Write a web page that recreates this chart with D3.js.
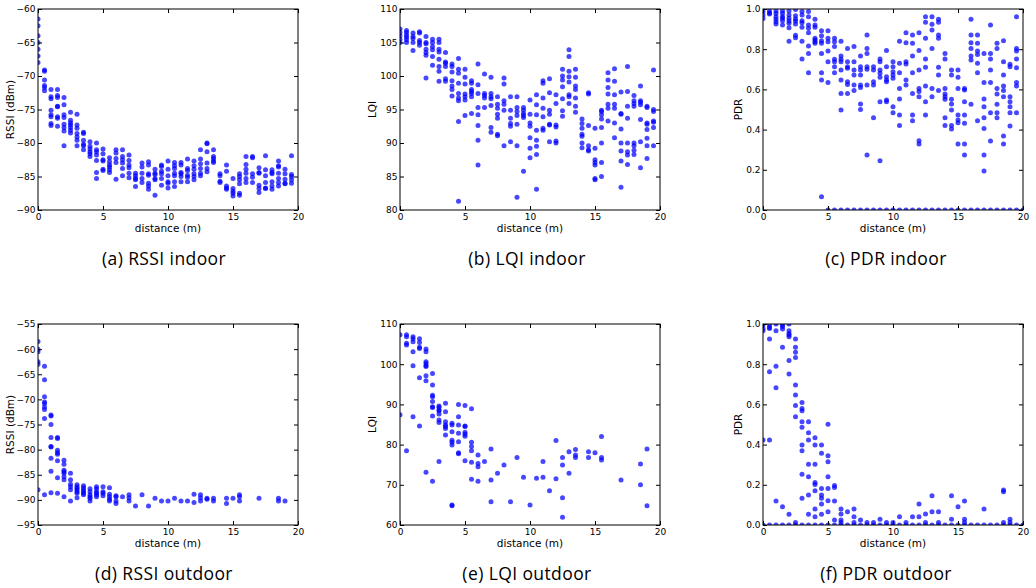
<!DOCTYPE html>
<html>
<head>
<meta charset="utf-8">
<script src="https://cdn.jsdelivr.net/npm/d3@7"></script>
<style>
  body { margin: 0; background: #fff; }
  svg { display: block; }
  .tick text { font-family: "DejaVu Sans", sans-serif; font-size: 9px; fill: #000; }
  .lbl { font-family: "DejaVu Sans", sans-serif; font-size: 10.5px; fill: #000; }
  .cap { font-family: "Open Sans", "Noto Sans", sans-serif; font-size: 17.5px; letter-spacing: 0.4px; fill: #000; }
</style>
</head>
<body>
<svg width="1036" height="588"></svg>
<script>
// each entry: [distance, [values measured at that distance]]
var rssiIndoor = [
  [0, [-61.5, -62.5, -64, -65, -66, -67, -68]],
  [0.5, [-69.1, -69.3, -70.6, -71.4, -71.7, -72.2]],
  [1, [-72, -73.1, -73.4, -75.1, -75.8, -76.1, -77.1, -77.4]],
  [1.5, [-72, -72.9, -73.2, -74.5, -74.6, -76.1, -76.3, -77.5]],
  [2, [-73.2, -74.3, -75.8, -76.2, -77.2, -77.7, -78.2, -80.4]],
  [2.5, [-75.4, -76.6, -77, -77.3, -77.7, -78.1, -78.5]],
  [3, [-75.7, -77.3, -77.8, -78.6, -79.1, -79.6, -80.4]],
  [3.5, [-78.4, -78.6, -79.6, -80.2, -80.4, -81]],
  [4, [-79.8, -80.5, -80.9, -81.3, -81.6, -82]],
  [4.5, [-80, -81, -81.3, -81.8, -82.6, -84.4, -85.3]],
  [5, [-80.9, -81.6, -82.5, -82.7, -83.9, -84.1]],
  [5.5, [-82.2, -82.8, -83.3, -83.6, -84, -84.4]],
  [6, [-81, -81.5, -82.3, -82.9, -85.4]],
  [6.5, [-81, -82, -82.5, -83, -83.8, -84.9]],
  [7, [-81.8, -82.6, -83.3, -83.7, -84.5, -85.2]],
  [7.5, [-84.5, -84.9, -85.3, -85.5, -86.5]],
  [8, [-83, -83.6, -84.5, -85.3, -85.9]],
  [8.5, [-82.8, -83.3, -84.6, -84.8, -86, -86.4, -86.9]],
  [9, [-83.9, -84.5, -84.7, -85.3, -85.5, -87.8]],
  [9.5, [-83.3, -83.5, -84.2, -84.6, -85.3, -86.3]],
  [10, [-82.7, -83.9, -84.9, -85.8, -86, -86.7]],
  [10.5, [-82.9, -83.4, -83.8, -84.5, -84.9, -85.8, -86.5]],
  [11, [-82.9, -83.3, -84.4, -84.6, -85, -85.8]],
  [11.5, [-82.4, -83.8, -84.1, -84.8, -85.1, -85.8]],
  [12, [-82.7, -83.4, -83.9, -84.6, -85, -85.5]],
  [12.5, [-81, -82.4, -83.1, -83.8, -84.5, -84.9]],
  [13, [-80, -80.1, -81.3, -83, -83.8, -84.3]],
  [13.5, [-81, -82, -82.3, -82.7, -82.9]],
  [14, [-84.6, -84.9, -85.7, -85.9]],
  [14.5, [-83.3, -84.2, -86.4, -86.7, -86.9]],
  [15, [-85.3, -86.8, -87.2, -87.5, -87.9]],
  [15.5, [-84.6, -85, -85.5, -86.1, -87.5, -87.8]],
  [16, [-82, -83.2, -83.9, -84.5, -85.3, -85.9]],
  [16.5, [-82, -82.2, -84.6, -85.1, -85.9]],
  [17, [-83.7, -84.4, -84.5, -86.3, -86.8, -87.4]],
  [17.5, [-81.9, -84, -84.9, -85.9, -86.7, -86.8]],
  [18, [-84, -84.4, -84.6, -85.8, -86.4, -86.9]],
  [18.5, [-82.7, -83.4, -83.6, -84.5, -85.3, -85.9, -86.4]],
  [19, [-83.9, -84.6, -85.4, -86, -86.1]],
  [19.5, [-81.9, -84.7, -85, -85.5, -86]]
];

var lqiIndoor = [
  [0, [107, 106.5, 106, 105.5, 105]],
  [0.5, [106.8, 106.5, 106.1, 105.8, 105.4, 105]],
  [1, [106.4, 105.9, 105.6, 105, 103.8]],
  [1.5, [106.6, 106.4, 105.3, 105, 104.6]],
  [2, [105.9, 105, 104.8, 104, 103.5, 103.1, 99.7]],
  [2.5, [105.5, 105, 104.4, 103.9, 102.9, 101.6]],
  [3, [105.5, 105, 104, 103.6, 102.5, 101.4, 100.7, 99.2]],
  [3.5, [103.5, 102.1, 101.9, 101.4, 99.6, 99.2]],
  [4, [101.8, 101.4, 100.6, 99.3, 98.5, 98, 97]],
  [4.5, [102.6, 101, 100.4, 98.9, 97.4, 96.7, 96.3, 93.2, 81.3]],
  [5, [101, 99.8, 98.8, 97.3, 96.9, 96.4, 94.1]],
  [5.5, [99.3, 98.9, 98, 97.7, 97.4, 96.9, 94.4]],
  [6, [101.8, 98.7, 97.4, 95.3, 94.2, 92.6, 90.4, 86.7]],
  [6.5, [100.3, 97.4, 97.1, 96.7, 95.3]],
  [7, [99.8, 97.4, 96.9, 96.6, 95.6, 92.3, 91.6]],
  [7.5, [96.9, 95.8, 95.2, 94.3, 93.7, 91.3, 91.1]],
  [8, [99.7, 98.8, 96.3, 95.8, 94.9, 89.6]],
  [8.5, [96.9, 94.9, 93.7, 92.9, 92.5, 90.2]],
  [9, [96.9, 95.3, 94.7, 94.1, 92.8, 89.6, 81.9]],
  [9.5, [95.3, 94.9, 94.4, 94.1, 93.8, 85.8]],
  [10, [96.4, 94.3, 93, 92.5, 90.8, 89.2, 87.8]],
  [10.5, [97.2, 95.7, 94.2, 91.9, 90.4, 89.5, 88.3, 83.1]],
  [11, [99.3, 98.9, 96.7, 95.2, 93.9, 92.2, 91.9]],
  [11.5, [99.6, 97.5, 94.9, 94.3, 92.8, 92.7, 90.2]],
  [12, [97.2, 95.9, 92.7, 92.4, 90.3, 90]],
  [12.5, [101, 100, 99.4, 98.4, 96.6, 94.8, 94]],
  [13, [103.9, 102.9, 100.7, 99.9, 99.1, 97.2, 96.9, 95.9]],
  [13.5, [101, 99.8, 98.5, 98, 96.7, 95.5, 94.6]],
  [14, [93.6, 92.9, 92.2, 91.3, 91, 90, 89.3]],
  [14.5, [97.5, 97.3, 92.6, 89.6, 89, 88.8]],
  [15, [92.2, 89.2, 87.5, 87.1, 86.7, 84.7, 84.5]],
  [15.5, [94.9, 94.7, 94.2, 93.6, 92.3, 90, 87.1, 85]],
  [16, [100.5, 99.4, 98.3, 97.3, 95.8, 95.2, 93.3]],
  [16.5, [101.1, 99.2, 97.2, 95.8, 95.2, 93, 90.8]],
  [17, [97.6, 94.4, 94.3, 92.1, 90, 88.8, 87.3, 83.4]],
  [17.5, [101.4, 97.7, 95.5, 93.7, 90, 88.7, 88.2, 86.8]],
  [18, [97.1, 96.3, 95.9, 95.5, 90, 89.6, 88.9, 88.3]],
  [18.5, [98.5, 96.3, 96.1, 95.7, 93.5, 90.2, 86.3]],
  [19, [95.5, 95.3, 93, 92.8, 92, 90.7, 89.6, 87.7]],
  [19.5, [100.9, 95, 94.7, 93.3, 93.1, 92.3, 89.6]]
];

var pdrIndoor = [
  [0, [0.987, 0.97, 0.953]],
  [0.5, [0.99, 0.98, 0.975]],
  [1, [0.99, 0.978, 0.962, 0.949, 0.937, 0.925]],
  [1.5, [0.99, 0.978, 0.962, 0.954, 0.942, 0.92]],
  [2, [0.99, 0.97, 0.954, 0.94, 0.929, 0.907, 0.84]],
  [2.5, [0.998, 0.967, 0.95, 0.94, 0.925, 0.87, 0.857]],
  [3, [0.987, 0.97, 0.942, 0.932, 0.909, 0.84, 0.751]],
  [3.5, [0.987, 0.962, 0.92, 0.904, 0.882, 0.816, 0.779, 0.683]],
  [4, [0.949, 0.92, 0.909, 0.854, 0.846, 0.837, 0.829]],
  [4.5, [0.892, 0.867, 0.842, 0.829, 0.779, 0.683, 0.647, 0.066]],
  [5, [0.892, 0.854, 0.837, 0.791, 0.738, 0.634, 0]],
  [5.5, [0.854, 0.837, 0.813, 0.75, 0.738, 0.713, 0.683, 0]],
  [6, [0.84, 0.766, 0.75, 0.738, 0.697, 0.647, 0.58, 0.497, 0]],
  [6.5, [0.804, 0.738, 0.713, 0.705, 0.638, 0.625, 0.58, 0]],
  [7, [0.813, 0.738, 0.697, 0.672, 0.622, 0.594, 0]],
  [7.5, [0.766, 0.713, 0.697, 0.672, 0.622, 0.61, 0.527, 0.5, 0]],
  [8, [0.871, 0.804, 0.779, 0.713, 0.7, 0.622, 0.274, 0]],
  [8.5, [0.713, 0.697, 0.638, 0.622, 0.459, 0]],
  [9, [0.751, 0.738, 0.697, 0.68, 0.66, 0.539, 0.245, 0]],
  [9.5, [0.793, 0.713, 0.663, 0.647, 0.638, 0.547, 0.539, 0]],
  [10, [0.738, 0.713, 0.688, 0.672, 0.655, 0.514, 0.484, 0]],
  [10.5, [0.84, 0.73, 0.683, 0.605, 0.552, 0.473, 0.42, 0]],
  [11, [0.882, 0.832, 0.738, 0.726, 0.647, 0.622, 0]],
  [11.5, [0.871, 0.829, 0.766, 0.683, 0.58, 0.473, 0.444, 0]],
  [12, [0.882, 0.793, 0.697, 0.605, 0.589, 0.564, 0.345, 0.328, 0]],
  [12.5, [0.962, 0.934, 0.854, 0.751, 0.71, 0.617, 0.539, 0.473, 0]],
  [13, [0.962, 0.924, 0.895, 0.804, 0.605, 0.564, 0]],
  [13.5, [0.949, 0.934, 0.871, 0.854, 0.71, 0.672, 0.594, 0]],
  [14, [0.779, 0.751, 0.605, 0.577, 0.564, 0.551, 0.459, 0.42, 0]],
  [14.5, [0.697, 0.672, 0.551, 0.527, 0.497, 0.42, 0.403, 0]],
  [15, [0.697, 0.66, 0.605, 0.473, 0.448, 0.434, 0.328, 0]],
  [15.5, [0.605, 0.597, 0.539, 0.473, 0.431, 0.328, 0.274, 0]],
  [16, [0.949, 0.871, 0.832, 0.804, 0.766, 0.746, 0.526, 0]],
  [16.5, [0.871, 0.829, 0.791, 0.774, 0.73, 0.683, 0.444, 0]],
  [17, [0.779, 0.634, 0.552, 0.514, 0.459, 0.406, 0.274, 0.194, 0]],
  [17.5, [0.92, 0.779, 0.751, 0.697, 0.634, 0.484, 0.343, 0]],
  [18, [0.829, 0.804, 0.605, 0.577, 0.526, 0.484, 0.459, 0]],
  [18.5, [0.842, 0.738, 0.672, 0.617, 0.594, 0.564, 0.368, 0.328, 0]],
  [19, [0.725, 0.713, 0.564, 0.539, 0.514, 0.484, 0.418, 0]],
  [19.5, [0.962, 0.804, 0.791, 0.751, 0.708, 0.634, 0.617, 0.484, 0]],
  [20, [0]]
];

var rssiOutdoor = [
  [0, [-58.5, -60, -60.5, -62.5, -63, -88]],
  [0.5, [-63.4, -66.1, -69.5, -70.5, -70.8, -71.5, -72, -73.8, -89]],
  [1, [-73.1, -73.3, -75, -77.6, -79.4, -79.5, -81.7, -84.3, -88.6]],
  [1.5, [-77.6, -77.8, -80.1, -80.6, -80.9, -82.2, -85.6, -88.7]],
  [2, [-82.1, -82.9, -84.1, -84.4, -84.7, -85.4, -86, -89.4]],
  [2.5, [-84.7, -86, -86.9, -87.4, -88, -90.2]],
  [3, [-87, -87.4, -87.7, -88, -88.4, -88.7, -89.6]],
  [3.5, [-87.2, -87.6, -88, -88.4, -88.7, -89]],
  [4, [-87.8, -88.4, -89, -89.4, -89.7, -90.2]],
  [4.5, [-87.4, -87.8, -88.4, -88.7, -89, -89.4]],
  [5, [-87.4, -88.4, -88.7, -89.2]],
  [5.5, [-87.6, -88.9, -89.4, -89.9, -90.2]],
  [6, [-89.2, -89.4, -90.2, -90.7]],
  [6.5, [-89.4]],
  [7, [-89, -89.6, -90.2]],
  [7.5, [-91.2]],
  [8, [-89]],
  [8.5, [-91.2]],
  [9, [-89.7]],
  [9.5, [-90.2]],
  [10, [-90.2]],
  [10.5, [-89.7]],
  [11, [-90.2]],
  [11.5, [-90.2]],
  [12, [-88.9, -90.5]],
  [12.5, [-89, -89.6, -90.2]],
  [13, [-89.7, -89.9]],
  [13.5, [-89.7, -90.2]],
  [14.5, [-89.7, -90.7]],
  [15, [-89.7]],
  [15.5, [-89, -89.4, -90.2]],
  [17, [-89.7]],
  [18.5, [-89.7, -90.2]],
  [19, [-90.2]]
];

var lqiOutdoor = [
  [0, [107.3, 87.4]],
  [0.5, [107.3, 106.8, 105.2, 104.8, 78.5]],
  [1, [106.8, 106.3, 105.6, 103.1, 99.6, 86.9]],
  [1.5, [106.3, 105.4, 104.2, 103.9, 96.6, 84.6]],
  [2, [103.8, 103.1, 100.6, 100.2, 99.6, 99.4, 97.1, 95.9, 73.1]],
  [2.5, [97.7, 94.8, 92.3, 91.9, 90.7, 89.4, 89.2, 87.1, 70.9]],
  [3, [89.6, 89.3, 88.6, 88.4, 87.6, 86.1, 85.5, 75.8]],
  [3.5, [90.3, 88.2, 85.7, 84.9, 84.5, 84, 82.4]],
  [4, [85.3, 84.9, 83.2, 81.1, 80.6, 79.9, 65, 64.8]],
  [4.5, [90, 86.9, 84.9, 82.8, 80.7, 78, 77.7]],
  [5, [89.7, 84.6, 84.5, 83.1, 82.6, 82.1, 76]],
  [5.5, [88.9, 80.6, 79.5, 78.5, 75.6, 71.4]],
  [6, [77.4, 75.3, 74.5, 70.9]],
  [6.5, [75.8]],
  [7, [78.9, 71.2, 65.8]],
  [7.5, [72.9]],
  [8, [74.9]],
  [8.5, [65.8]],
  [9, [76.8]],
  [9.5, [71.9]],
  [10, [65]],
  [10.5, [71.6]],
  [11, [75.8, 71.9]],
  [11.5, [68.5]],
  [12, [81, 71.5]],
  [12.5, [76.8, 74.9, 66.8, 61.9]],
  [13, [78.2, 72.9]],
  [13.5, [78.8, 77.4, 76.8]],
  [14.5, [78.2, 76.8]],
  [15, [78]],
  [15.5, [82, 76.8, 76.2]],
  [17, [71.2]],
  [18.5, [75.2, 70]],
  [19, [78.9, 64.8]]
];

var pdrOutdoor = [
  [0, [0.995, 0.978, 0.967, 0.423, 0]],
  [0.5, [0.995, 0.983, 0.978, 0.925, 0.763, 0.423, 0]],
  [1, [1, 0.967, 0.79, 0.683, 0.119, 0]],
  [1.5, [0.995, 0.987, 0.975, 0.884, 0.091, 0]],
  [2, [1, 0.967, 0.953, 0.945, 0.937, 0.818, 0.751, 0.053, 0]],
  [2.5, [0.925, 0.884, 0.859, 0.833, 0.697, 0.647, 0.594, 0.539, 0.013, 0]],
  [3, [0.609, 0.58, 0.569, 0.514, 0.486, 0.398, 0.37, 0.252, 0.133, 0]],
  [3.5, [0.514, 0.459, 0.423, 0.302, 0.24, 0.149, 0.053, 0]],
  [4, [0.434, 0.398, 0.302, 0.212, 0.202, 0.171, 0.08, 0.041, 0]],
  [4.5, [0.398, 0.357, 0.182, 0.149, 0.133, 0.104, 0.053, 0]],
  [5, [0.501, 0.345, 0.315, 0.24, 0.182, 0.121, 0.066, 0]],
  [5.5, [0.196, 0.186, 0.119, 0.025, 0]],
  [6, [0.08, 0.055, 0.025, 0.013, 0]],
  [6.5, [0.066, 0]],
  [7, [0.08, 0.041, 0.013, 0]],
  [7.5, [0.025, 0]],
  [8, [0.013, 0]],
  [8.5, [0.013, 0]],
  [9, [0.028, 0]],
  [9.5, [0.013, 0]],
  [10, [0.013, 0]],
  [10.5, [0.041, 0]],
  [11, [0.013, 0]],
  [11.5, [0.041, 0]],
  [12, [0.104, 0.041, 0]],
  [12.5, [0.055, 0.013, 0]],
  [13, [0.146, 0.066, 0]],
  [13.5, [0.066, 0.013, 0]],
  [14, [0]],
  [14.5, [0.146, 0.028, 0]],
  [15, [0.091, 0]],
  [15.5, [0.119, 0.028, 0.013, 0]],
  [16, [0]],
  [16.5, [0]],
  [17, [0.08, 0]],
  [17.5, [0]],
  [18, [0]],
  [18.5, [0.174, 0.166, 0.013, 0]],
  [19, [0.028, 0.013, 0]],
  [19.5, [0]],
  [20, [0]]
];

var xTicks = [0, 5, 10, 15, 20];
var rssiInTicks = [-90, -85, -80, -75, -70, -65, -60];
var lqiInTicks = [80, 85, 90, 95, 100, 105, 110];
var pdrTicks = [0, 0.2, 0.4, 0.6, 0.8, 1.0];
var rssiOutTicks = [-95, -90, -85, -80, -75, -70, -65, -60, -55];
var lqiOutTicks = [60, 70, 80, 90, 100, 110];

var captions = ["(a) RSSI indoor", "(b) LQI indoor", "(c) PDR indoor",
                "(d) RSSI outdoor", "(e) LQI outdoor", "(f) PDR outdoor"];
var yLabels = ["RSSI (dBm)", "LQI", "PDR", "RSSI (dBm)", "LQI", "PDR"];

var svg = d3.select("svg");
var w = 260, h = 201;
var lefts = [38, 400, 763];
var tops = [9, 324];
var labelGap = [28, 28, 25];
var capX = [164, 527, 886];

var panels = [
  { data: rssiIndoor, dom: [-90, -60], ticks: rssiInTicks, fmt: d3.format("d") },
  { data: lqiIndoor, dom: [80, 110], ticks: lqiInTicks, fmt: d3.format("d") },
  { data: pdrIndoor, dom: [0, 1], ticks: pdrTicks, fmt: d3.format(".1f") },
  { data: rssiOutdoor, dom: [-95, -55], ticks: rssiOutTicks, fmt: d3.format("d") },
  { data: lqiOutdoor, dom: [60, 110], ticks: lqiOutTicks, fmt: d3.format("d") },
  { data: pdrOutdoor, dom: [0, 1], ticks: pdrTicks, fmt: d3.format(".1f") }
];

panels.forEach(function(p, i) {
  var col = i % 3, row = Math.floor(i / 3);
  var x0 = lefts[col], y0 = tops[row];
  var g = svg.append("g").attr("transform", "translate(" + x0 + "," + y0 + ")");

  var x = d3.scaleLinear().domain([0, 20]).range([0, w]);
  var y = d3.scaleLinear().domain(p.dom).range([h, 0]);

  g.append("clipPath").attr("id", "clip" + i)
    .append("rect").attr("width", w).attr("height", h);

  // flatten [dist, values] into points
  var pts = [];
  p.data.forEach(function(d) {
    d[1].forEach(function(v) { pts.push({ x: d[0], y: v }); });
  });

  g.append("g").attr("clip-path", "url(#clip" + i + ")")
    .selectAll("circle").data(pts).enter().append("circle")
    .attr("cx", function(d) { return x(d.x); })
    .attr("cy", function(d) { return y(d.y); })
    .attr("r", 2.5)
    .attr("fill", "#0000ff")
    .attr("fill-opacity", 0.72);

  var bottom = d3.axisBottom(x).tickValues(xTicks).tickSizeInner(-4).tickSizeOuter(0).tickPadding(3.5);
  var top = d3.axisTop(x).tickValues(xTicks).tickSizeInner(-4).tickSizeOuter(0).tickFormat("");
  var left = d3.axisLeft(y).tickValues(p.ticks).tickSizeInner(-4).tickSizeOuter(0).tickPadding(2.5).tickFormat(p.fmt);
  var right = d3.axisRight(y).tickValues(p.ticks).tickSizeInner(-4).tickSizeOuter(0).tickFormat("");

  g.append("g").attr("transform", "translate(0," + h + ")").call(bottom);
  g.append("g").call(top);
  g.append("g").call(left);
  g.append("g").attr("transform", "translate(" + w + ",0)").call(right);
  g.selectAll(".domain").remove();
  g.selectAll(".tick line").attr("stroke", "#000");

  g.append("rect").attr("width", w).attr("height", h)
    .attr("fill", "none").attr("stroke", "#000").attr("stroke-width", 1);

  g.append("text").attr("class", "lbl")
    .attr("x", w / 2).attr("y", h + 22)
    .attr("text-anchor", "middle").text("distance (m)");

  g.append("text").attr("class", "lbl")
    .attr("transform", "translate(" + (-labelGap[col]) + "," + (h / 2) + ") rotate(-90)")
    .attr("text-anchor", "middle").attr("dy", "0.35em").text(yLabels[i]);

  svg.append("text").attr("class", "cap")
    .attr("x", capX[col]).attr("y", y0 + h + 55)
    .attr("text-anchor", "middle").text(captions[i]);
});
</script>
</body>
</html>
